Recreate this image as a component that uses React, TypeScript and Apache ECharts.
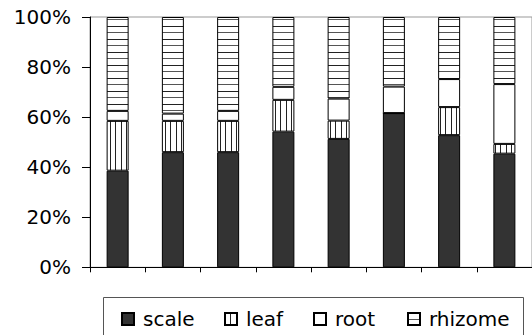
import React, { useEffect, useRef } from "react";
import * as echarts from "echarts";

const categories = ["1", "2", "3", "4", "5", "6", "7", "8"];
const scale = [38.6, 46.0, 46.0, 54.2, 51.3, 61.6, 52.8, 45.4];
const leaf = [19.9, 12.5, 12.5, 12.7, 7.3, 0, 11.2, 3.9];
const root = [4.0, 2.9, 4.0, 5.2, 8.8, 10.6, 11.2, 23.9];
const rhizome = [37.5, 38.6, 37.5, 27.9, 32.6, 27.8, 24.8, 26.8];
const yTicks = [0, 20, 40, 60, 80, 100];
const seriesNames = ["scale", "leaf", "root", "rhizome"];
const legendLefts = [121, 224, 313, 407];

const FONT = "DejaVu Sans";

function makeCanvas(w: number, h: number, draw: (c: CanvasRenderingContext2D) => void) {
  const cv = document.createElement("canvas");
  cv.width = w;
  cv.height = h;
  const ctx = cv.getContext("2d")!;
  ctx.fillStyle = "#fff";
  ctx.fillRect(0, 0, w, h);
  draw(ctx);
  return cv;
}

export default function App() {
  const ref = useRef<HTMLDivElement>(null);
  useEffect(() => {
    if (!ref.current) return;
    const chart = echarts.init(ref.current, null, { renderer: "svg" });
    const hCanvas = makeCanvas(4, 13, (c) => {
      c.fillStyle = "#222";
      c.fillRect(0, 0, 4, 1);
      c.fillStyle = "#555";
      c.fillRect(0, 6, 4, 1);
    });
    const vCanvas = makeCanvas(11, 4, (c) => {
      c.fillStyle = "#222";
      c.fillRect(0, 0, 1, 4);
      c.fillRect(5, 0, 1, 4);
    });
    const hPattern = { image: hCanvas, repeat: "repeat" };
    const vPattern = { image: vCanvas, repeat: "repeat" };
    const border = { borderColor: "#000", borderWidth: 1 };
    const colors = ["#333", vPattern, "#fff", hPattern];

    chart.setOption({
      animation: false,
      backgroundColor: "#fff",
      grid: { left: 90, top: 17, width: 451, height: 250.3, show: true, borderColor: "#999", borderWidth: 1 },
      xAxis: {
        type: "category",
        data: categories,
        axisLine: { lineStyle: { color: "#000", width: 1 } },
        axisTick: { show: true, length: 5, lineStyle: { color: "#000" } },
        axisLabel: { show: false },
      },
      yAxis: {
        type: "value",
        min: 0,
        max: 100,
        interval: 20,
        axisLine: { show: true, lineStyle: { color: "#000" } },
        axisTick: { show: true, length: 8, lineStyle: { color: "#000" } },
        splitLine: { show: false },
        axisLabel: {
          margin: 19,
          fontFamily: FONT,
          fontSize: 20,
          color: "#000",
          formatter: (v: number) => (yTicks.includes(v) ? v + "%" : ""),
        },
      },
      legend: seriesNames.map((n, i) => ({
        left: legendLefts[i],
        top: 309,
        padding: 0,
        icon: "rect",
        itemWidth: 12,
        itemHeight: 12,
        textStyle: { fontFamily: FONT, fontSize: 20, color: "#000", padding: [0, 0, 0, 4] },
        data: [n],
      })),
      graphic: [
        {
          type: "rect",
          shape: { x: 103.5, y: 297.5, width: 420, height: 60 },
          style: { fill: "none", stroke: "#555", lineWidth: 1 },
        },
      ],
      series: [scale, leaf, root, rhizome].map((d, i) => ({
        name: seriesNames[i],
        type: "bar",
        stack: "s",
        barWidth: 22,
        data: d,
        itemStyle: { color: colors[i], ...border },
      })),
    });
    return () => chart.dispose();
  }, []);
  return <div ref={ref} style={{ width: 532, height: 335, position: "absolute", left: 0, top: 0 }} />;
}
